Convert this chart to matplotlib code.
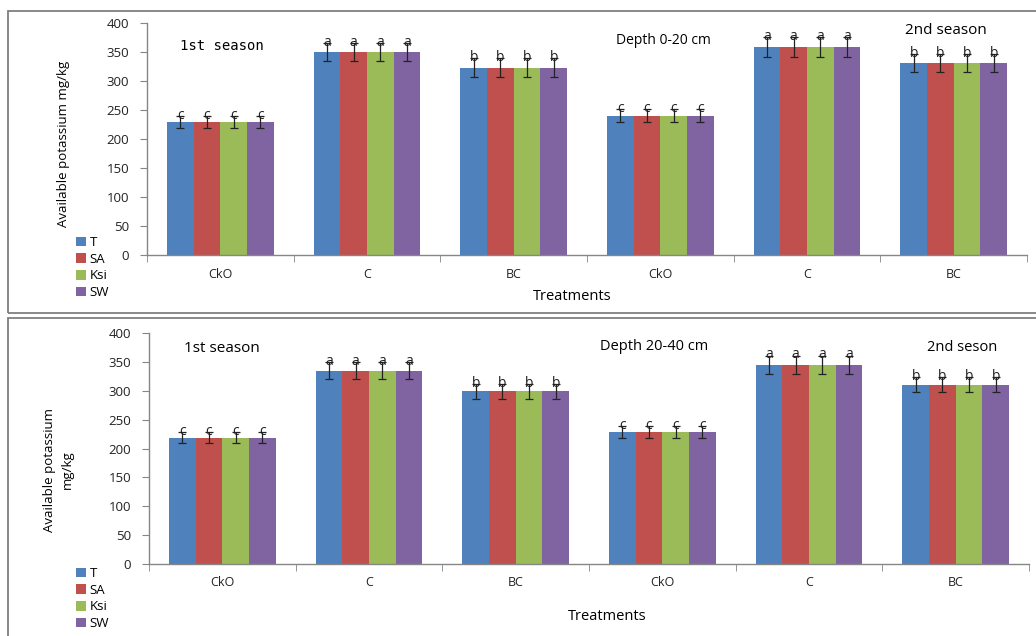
#!/usr/bin/env python3
"""Available potassium by treatment, two depths, two seasons."""
import numpy as np
import matplotlib
matplotlib.use('Agg')
import matplotlib.pyplot as plt
from matplotlib.patches import Patch, Rectangle

# --- data ---
treatments = ['CkO', 'C', 'BC', 'CkO', 'C', 'BC']
series     = ['T', 'SA', 'Ksi', 'SW']
colors     = ['#4F81BD', '#C0504D', '#9BBB59', '#8064A2']

# depth 0-20 cm (same value for every series)
top_T   = [229, 350, 323, 240, 359, 331]
top_SA  = [229, 350, 323, 240, 359, 331]
top_Ksi = [229, 350, 323, 240, 359, 331]
top_SW  = [229, 350, 323, 240, 359, 331]
top_err = [10, 16, 16, 11, 17, 15]
top_letters = ['c', 'a', 'b', 'c', 'a', 'b']

# depth 20-40 cm
bot_T   = [219, 335, 299, 229, 345, 310]
bot_SA  = [219, 335, 299, 229, 345, 310]
bot_Ksi = [219, 335, 299, 229, 345, 310]
bot_SW  = [219, 335, 299, 229, 345, 310]
bot_err = [10, 14, 13, 10, 16, 13]
bot_letters = ['c', 'a', 'b', 'c', 'a', 'b']

W, H = 1036, 636
GRAY = '#868686'
FONT = 'Open Sans'


def px_axes(fig, left, right, y0, y400):
    # place axes from pixel coordinates of the reference
    return fig.add_axes([left / W, (H - y0) / H, (right - left) / W, (y0 - y400) / H])


def draw_panel(ax, values, err, letters):
    n = len(treatments)
    x = np.arange(n) + 0.5
    bw = 0.182
    for i, (vals, c) in enumerate(zip(values, colors)):
        xs = x + (i - 1.5) * bw
        ax.bar(xs, vals, width=bw, color=c, edgecolor='none', zorder=2)
        ax.errorbar(xs, vals, yerr=err, fmt='none', ecolor='#222222',
                    elinewidth=0.9, capsize=3, capthick=0.9, zorder=3)
        for xx, v, e, lt in zip(xs, vals, err, letters):
            ax.text(xx, v + e + 1, lt, ha='center', va='center',
                    fontsize=10, color='#222222', family=FONT, zorder=4)

    ax.set_xlim(0, n)
    ax.set_ylim(0, 400)
    ax.set_yticks(np.arange(0, 401, 50))
    ax.set_xticks(x)
    ax.set_xticklabels(treatments)
    ax.set_xticks(np.arange(0, n + 1), minor=True)
    ax.tick_params(axis='x', which='major', length=0, pad=9, labelsize=9, colors='#222222')
    ax.tick_params(axis='x', which='minor', length=5, color=GRAY, direction='out')
    ax.tick_params(axis='y', length=5, color=GRAY, labelsize=9.5, pad=8, labelcolor='#222222')
    for lab in ax.get_xticklabels() + ax.get_yticklabels():
        lab.set_family(FONT)
    for s in ['top', 'right']:
        ax.spines[s].set_visible(False)
    for s in ['left', 'bottom']:
        ax.spines[s].set_color(GRAY)
        ax.spines[s].set_linewidth(1.0)
    ax.patch.set_alpha(0)


fig = plt.figure(figsize=(W / 100, H / 100), dpi=100)

# panel frames
fig.patches.append(Rectangle((8 / W, (H - 313) / H), 1.2, 302 / H, transform=fig.transFigure,
                             fill=False, edgecolor='#7f7f7f', linewidth=1.3))
fig.patches.append(Rectangle((8 / W, -0.05), 1.2, (H - 318) / H + 0.05, transform=fig.transFigure,
                             fill=False, edgecolor='#7f7f7f', linewidth=1.3))

ax1 = px_axes(fig, 147, 1027, 255, 23)
draw_panel(ax1, [top_T, top_SA, top_Ksi, top_SW], top_err, top_letters)
ax2 = px_axes(fig, 149, 1029, 564, 333)
draw_panel(ax2, [bot_T, bot_SA, bot_Ksi, bot_SW], bot_err, bot_letters)

# panel texts
def ftext(x, y, s, **kw):
    fig.text(x / W, 1 - y / H, s, **kw)

ftext(222, 46, '1st season', ha='center', va='center', fontsize=10, family='DejaVu Sans Mono')
ftext(663, 40, 'Depth 0-20 cm', ha='center', va='center', fontsize=10, family=FONT)
ftext(946, 30, '2nd season', ha='center', va='center', fontsize=11, family=FONT)
ftext(222, 349, '1st season', ha='center', va='center', fontsize=11, family=FONT)
ftext(654, 346, 'Depth 20-40 cm', ha='center', va='center', fontsize=10.5, family=FONT)
ftext(962, 347, '2nd seson', ha='center', va='center', fontsize=10.5, family=FONT)

ftext(572, 296, 'Treatments', ha='center', va='center', fontsize=10.5, family=FONT)
ftext(607, 616, 'Treatments', ha='center', va='center', fontsize=10.5, family=FONT)

ftext(63, 144, 'Available potassium mg/kg', ha='center', va='center', rotation=90,
      fontsize=9.5, family=FONT)
ftext(58, 470, 'Available potassium\nmg/kg', ha='center', va='center', rotation=90,
      fontsize=9.5, family=FONT, linespacing=1.5)

# legends
handles = [Patch(facecolor=c, edgecolor='none') for c in colors]
for ytop in (236, 567):
    fig.legend(handles, series, loc='upper left', bbox_to_anchor=(76 / W, 1 - ytop / H),
               frameon=False, handlelength=0.75, handleheight=0.75, handletextpad=0.3,
               labelspacing=0.28, borderpad=0, borderaxespad=0,
               prop={'family': FONT, 'size': 9.5})

fig.savefig('out.png', dpi=100)
